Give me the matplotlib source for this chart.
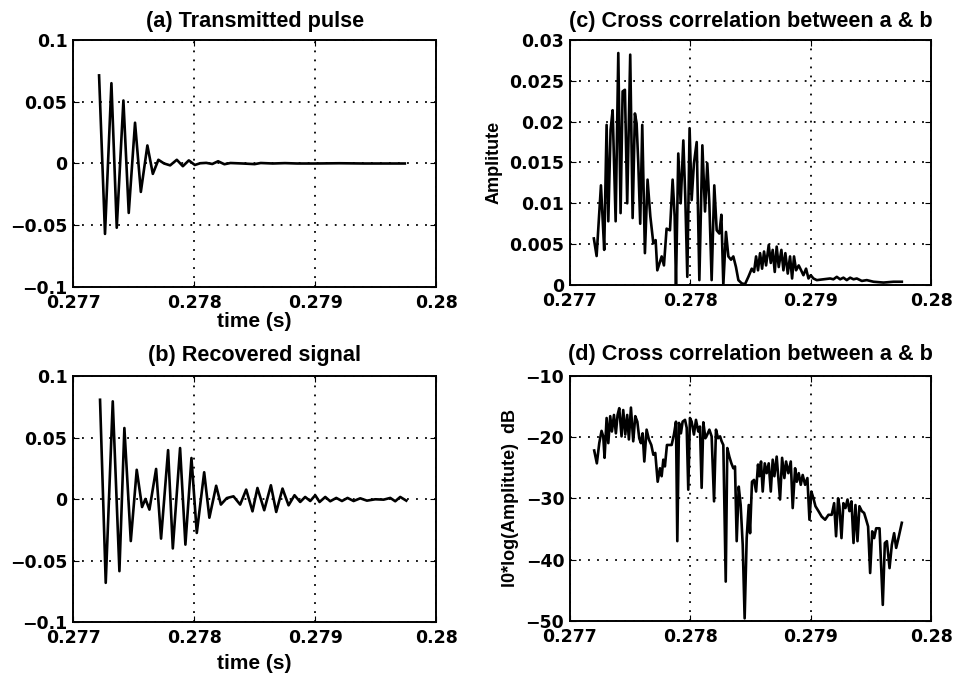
import matplotlib
matplotlib.use("Agg")
import matplotlib.pyplot as plt
import numpy as np

T0 = 0.277  # all times below are microseconds after this instant

# (a) transmitted pulse, values in units of 1e-3
t_a = [215, 264, 317, 361, 416, 460, 512, 560, 614, 659, 705, 752, 802, 857, 907,
       956, 1006, 1050, 1100, 1150, 1198, 1250, 1300, 1400, 1500, 1550, 1650, 1750,
       1850, 2000, 2200, 2400, 2600, 2740]
y_a = [71.3, -57, 65, -52, 51, -40, 33, -23, 14.6, -8.4, 3, 0, -1.5, 3, -2.2,
       2.5, -1.2, 0.2, 0.5, -0.4, 1.8, -0.6, 0.4, 0, -0.5, 0.4, 0, 0.3,
       0, 0, 0.2, 0, 0, 0]

# (b) recovered signal, values in units of 1e-3
t_b = [223, 270, 328, 383, 424, 477, 526, 570, 598, 631,
       686, 727, 785, 824, 884, 928, 978, 1022, 1083, 1126,
       1182, 1221, 1270, 1325, 1380, 1430, 1482, 1523, 1579, 1634,
       1678, 1730, 1780, 1829, 1876, 1917, 1959, 2000, 2036, 2083,
       2124, 2174, 2221, 2267, 2317, 2372, 2427, 2496, 2565, 2620,
       2661, 2702, 2752]
y_b = [81, -68, 79.7, -58.5, 58, -34, 24, -6.3, 0.3, -8.4,
       24.7, -32, 40, -40, 41.7, -36.9, 33.6, -27.4, 22, -15,
       11, -4.3, 1, 2.4, -4.3, 7.9, -9.8, 9.2, -8.9, 11.4,
       -10.3, 8.7, -4.9, 3.3, -2.2, 1.9, -1.4, 3.3, -2.2, 1.9,
       -1.6, 1.1, -1.4, 1.1, -1.4, 0.8, -1.1, 0, -0.3, 1.1,
       -1.6, 1.9, -1.1]

# (c) cross correlation, values in units of 1e-3
t_c = [199, 222, 258, 271, 285, 305, 319, 338, 355, 380, 402, 421, 438, 457, 476,
       501, 521, 540, 554, 568, 584, 601, 623, 645, 668, 693, 712, 726, 762, 781,
       803, 831, 853, 870, 881, 900, 920, 942, 958, 975, 994, 1011, 1030, 1053, 1075,
       1100, 1122, 1141, 1158, 1177, 1199, 1219, 1241, 1258, 1274, 1296, 1316, 1338, 1357, 1379,
       1399, 1427, 1454, 1482, 1510, 1529, 1546, 1562, 1579, 1596, 1612, 1629, 1651, 1668, 1684,
       1701, 1717, 1734, 1756, 1773, 1789, 1809, 1828, 1845, 1861, 1878, 1900, 1920, 1939, 1961,
       1981, 2000, 2022, 2050, 2105, 2161, 2188, 2216, 2244, 2271, 2299, 2327, 2355, 2382, 2424,
       2465, 2521, 2604, 2687, 2756]
y_c = [5.7, 3.55, 12.2, 8.4, 4.3, 19.6, 7.8, 19.0, 21.4, 7.8, 28.4, 8.8, 23.7, 23.9, 10.0,
       28.2, 8.2, 21.0, 19.8, 14.9, 7.5, 19.6, 3.9, 12.9, 8.4, 5.1, 5.5, 1.8, 3.5, 2.4,
       6.9, 6.7, 12.9, 8.4, 0, 16.1, 10.0, 17.7, 10.8, 1.0, 19.2, 10.4, 14.9, 17.5, 0.6,
       17.1, 9.0, 14.9, 10.0, 0.6, 12.2, 6.7, 6.3, 8.6, 0, 6.5, 3.5, 3.1, 3.5, 2.2,
       0.6, 0.2, 0.1, 1.0, 2.0, 1.6, 3.5, 1.8, 3.9, 2.0, 4.1, 2.4, 4.9, 2.7, 4.3,
       1.6, 4.7, 2.2, 4.3, 1.8, 3.9, 1.4, 3.5, 0.8, 3.5, 1.8, 2.4, 1.8, 1.2, 2.0,
       0.8, 1.2, 0.8, 0.6, 0.7, 0.8, 0.7, 1.0, 0.7, 0.9, 0.6, 0.9, 0.7, 0.8, 0.5,
       0.6, 0.4, 0.3, 0.4, 0.4]

# (d) cross correlation in dB
t_d = [202, 224, 244, 263, 277, 288, 305, 319, 335, 349, 366, 382, 396, 410, 429,
       443, 460, 476, 490, 507, 526, 543, 560, 576, 590, 604, 618, 637, 656, 676,
       693, 709, 729, 748, 762, 776, 789, 806, 825, 845, 864, 881, 892, 906, 922,
       936, 956, 970, 983, 997, 1011, 1030, 1047, 1066, 1080, 1094, 1108, 1125, 1141, 1158,
       1177, 1197, 1213, 1230, 1247, 1260, 1274, 1294, 1307, 1324, 1341, 1357, 1371, 1385, 1402,
       1418, 1435, 1451, 1468, 1485, 1496, 1512, 1529, 1546, 1562, 1573, 1587, 1601, 1618, 1634,
       1651, 1668, 1684, 1698, 1717, 1731, 1745, 1762, 1781, 1795, 1814, 1834, 1850, 1870, 1884,
       1900, 1917, 1933, 1953, 1972, 1989, 2005, 2022, 2039, 2064, 2091, 2119, 2147, 2174, 2194,
       2210, 2227, 2238, 2255, 2271, 2288, 2305, 2321, 2338, 2355, 2371, 2388, 2404, 2424, 2443,
       2460, 2476, 2493, 2510, 2526, 2543, 2571, 2598, 2615, 2632, 2654, 2673, 2692, 2709, 2728,
       2756]
y_d = [-22.2, -24.3, -21.0, -19.0, -19.9, -23.4, -16.9, -21.0, -16.6, -19.1, -16.4, -19.4, -16.4, -15.3, -19.9,
       -15.6, -19.6, -16.4, -20.4, -15.2, -20.7, -16.6, -17.5, -20.2, -21.0, -19.4, -24.0, -18.8, -20.4, -21.3,
       -22.9, -22.6, -27.3, -25.1, -26.4, -23.7, -24.8, -21.3, -21.3, -21.3, -19.6, -17.5, -37.0, -17.7, -19.4,
       -17.5, -17.2, -18.5, -28.6, -16.9, -17.5, -19.6, -17.2, -19.1, -18.3, -28.3, -17.6, -20.2, -19.6, -18.8,
       -19.9, -30.5, -18.8, -20.2, -19.9, -20.7, -21.3, -43.6, -21.8, -23.2, -24.3, -25.1, -24.8, -37.0, -28.1,
       -31.1, -37.6, -49.6, -36.5, -31.1, -35.7, -27.3, -27.0, -28.9, -24.5, -26.4, -24.0, -28.9, -24.3, -25.9,
       -24.3, -28.9, -23.7, -26.4, -23.2, -26.7, -30.2, -23.4, -26.7, -24.0, -25.9, -24.0, -31.6, -25.1, -27.3,
       -25.9, -27.8, -26.2, -27.8, -26.7, -33.5, -28.9, -30.0, -31.3, -32.1, -33.0, -33.5, -32.7, -32.7, -30.8,
       -36.2, -30.0, -31.3, -36.5, -30.8, -31.6, -30.2, -32.1, -30.5, -37.3, -31.1, -37.0, -31.3, -32.1, -32.4,
       -33.5, -34.6, -42.2, -35.4, -36.5, -34.9, -34.9, -47.4, -37.3, -37.0, -41.4, -37.6, -35.7, -38.1, -36.5,
       -34.0]

x_ticks = [0.277, 0.278, 0.279, 0.28]
x_ticklabels = ["0.277", "0.278", "0.279", "0.28"]

plt.rcParams["font.family"] = ["Liberation Sans", "DejaVu Sans"]
plt.rcParams["font.weight"] = "bold"
plt.rcParams["axes.labelweight"] = "bold"
plt.rcParams["axes.titleweight"] = "bold"
plt.rcParams["font.size"] = 13

TICK_FONT = {"family": "DejaVu Sans", "weight": "bold", "size": 12.5}


def to_s(t_us):
    return T0 + np.array(t_us) * 1e-6


def style(ax, yticks, yticklabels, ylim):
    ax.set_xlim(0.277, 0.28)
    ax.set_ylim(*ylim)
    ax.set_xticks(x_ticks)
    ax.set_xticklabels(x_ticklabels, fontdict=TICK_FONT)
    ax.set_yticks(yticks)
    ax.set_yticklabels(yticklabels, fontdict=TICK_FONT)
    ax.grid(True, color="black", linestyle=(0, (1, 4)), linewidth=1.3)
    ax.tick_params(direction="in", length=4, top=True, right=True)
    ax.tick_params(axis="x", pad=5)
    ax.tick_params(axis="y", pad=4)
    for s in ax.spines.values():
        s.set_linewidth(1.4)


fig = plt.figure(figsize=(9.61, 6.77), dpi=100)
ax_a = fig.add_axes([0.076, 0.576, 0.378, 0.365])
ax_c = fig.add_axes([0.593, 0.579, 0.376, 0.362])
ax_b = fig.add_axes([0.076, 0.081, 0.378, 0.363])
ax_d = fig.add_axes([0.593, 0.083, 0.376, 0.362])

amp_ticks = [-0.1, -0.05, 0, 0.05, 0.1]
amp_labels = ["\u22120.1", "\u22120.05", "0", "0.05", "0.1"]

ax_a.plot(to_s(t_a), np.array(y_a) * 1e-3, color="black", lw=1.9)
style(ax_a, amp_ticks, amp_labels, (-0.1, 0.1))
ax_a.set_title("(a) Transmitted pulse", pad=9)
ax_a.set_xlabel("time (s)", fontsize=15, labelpad=0)

ax_b.plot(to_s(t_b), np.array(y_b) * 1e-3, color="black", lw=1.9)
style(ax_b, amp_ticks, amp_labels, (-0.1, 0.1))
ax_b.set_title("(b) Recovered signal", pad=11)
ax_b.set_xlabel("time (s)", fontsize=15, labelpad=5)

ax_c.plot(to_s(t_c), np.array(y_c) * 1e-3, color="black", lw=1.9)
style(ax_c, [0, 0.005, 0.01, 0.015, 0.02, 0.025, 0.03],
      ["0", "0.005", "0.01", "0.015", "0.02", "0.025", "0.03"], (0, 0.03))
ax_c.set_title("(c) Cross correlation between a & b", pad=9)
ax_c.set_ylabel("Amplitute", labelpad=5)

ax_d.plot(to_s(t_d), y_d, color="black", lw=1.9)
style(ax_d, [-50, -40, -30, -20, -10],
      ["\u221250", "\u221240", "\u221230", "\u221220", "\u221210"], (-50, -10))
ax_d.set_title("(d) Cross correlation between a & b", pad=11)
ax_d.set_ylabel("l0*log(Amplitute)  dB", labelpad=5)

fig.savefig("out.png", dpi=100)
